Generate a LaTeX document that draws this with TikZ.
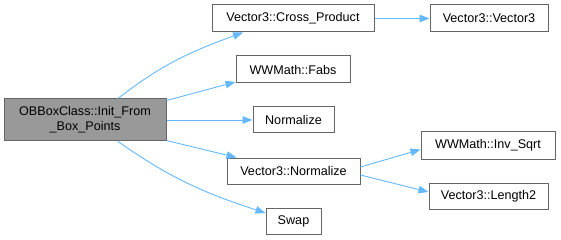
\documentclass[tikz,border=0pt]{standalone}
\usepackage{fontspec}
\setmainfont{Liberation Sans}
\usetikzlibrary{arrows.meta}
\definecolor{edgeblue}{HTML}{63B8FF}
\definecolor{boxline}{HTML}{666666}
\definecolor{boxfill}{HTML}{999999}
\begin{document}
\begin{tikzpicture}[x=1pt,y=1pt,
  fn/.style={draw=boxline, line width=1pt, fill=white, inner sep=0pt,
    font=\fontsize{12.6}{15}\selectfont, text=black, align=center},
  root/.style={fn, fill=boxfill},
  edge/.style={draw=edgeblue, line width=0.9pt,
    -{Triangle[length=10pt,width=7.5pt]}}]
\useasboundingbox (0,0) rectangle (561,-240);

% called functions
\node[root, minimum width=162pt, minimum height=42pt] (main) at (85,-120)
  {OBBoxClass::Init\_From\\\_Box\_Points};
\node[fn, minimum width=162pt, minimum height=27pt] (cross) at (293,-18.5) {Vector3::Cross\_Product};
\node[fn, minimum width=118pt, minimum height=27pt] (ctor) at (489,-18.5) {Vector3::Vector3};
\node[fn, minimum width=114pt, minimum height=27pt] (fabs) at (293,-69.5) {WWMath::Fabs};
\node[fn, minimum width=81pt, minimum height=26pt] (norm) at (293.5,-120) {Normalize};
\node[fn, minimum width=133pt, minimum height=26pt] (vnorm) at (293.5,-171) {Vector3::Normalize};
\node[fn, minimum width=134pt, minimum height=27pt] (isqrt) at (488,-145.5) {WWMath::Inv\_Sqrt};
\node[fn, minimum width=119pt, minimum height=26pt] (len2) at (488.5,-196) {Vector3::Length2};
\node[fn, minimum width=55pt, minimum height=26pt] (swap) at (293.5,-221) {Swap};

% call edges
\draw[edge] ([xshift=33pt]main.north) to[out=38,in=200] ([xshift=-50pt]cross.south);
\draw[edge] ([yshift=-2pt]main.north east) -- ([yshift=1.5pt]fabs.south west);
\draw[edge] (main.east) -- (norm.west);
\draw[edge] ([yshift=1pt]main.south east) -- ([xshift=10pt]vnorm.north west);
\draw[edge] ([xshift=33pt]main.south) to[out=-35,in=162] ([yshift=8pt]swap.west);
\draw[edge] (cross.east) -- (ctor.west);
\draw[edge] ([yshift=4pt]vnorm.east) -- ([yshift=-4pt]isqrt.west);
\draw[edge] ([yshift=-4pt]vnorm.east) -- ([yshift=4pt]len2.west);
\end{tikzpicture}
\end{document}
